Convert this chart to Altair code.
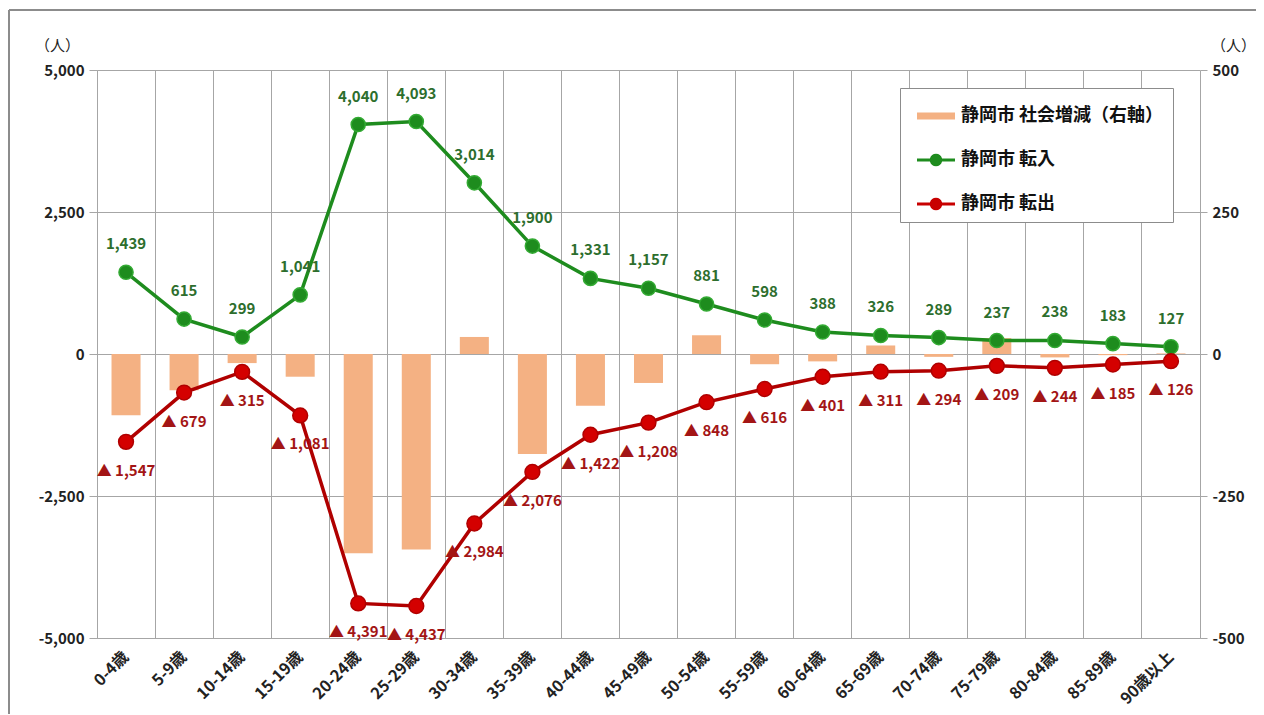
import altair as alt
import pandas as pd

ages = ["0-4歳", "5-9歳", "10-14歳", "15-19歳", "20-24歳", "25-29歳", "30-34歳",
        "35-39歳", "40-44歳", "45-49歳", "50-54歳", "55-59歳", "60-64歳", "65-69歳",
        "70-74歳", "75-79歳", "80-84歳", "85-89歳", "90歳以上"]
tennyu = [1439, 615, 299, 1041, 4040, 4093, 3014, 1900, 1331, 1157, 881, 598,
          388, 326, 289, 237, 238, 183, 127]
tenshutsu = [1547, 679, 315, 1081, 4391, 4437, 2984, 2076, 1422, 1208, 848, 616,
             401, 311, 294, 209, 244, 185, 126]
shakai = [-108, -64, -16, -40, -351, -344, 30, -176, -91, -51, 33, -18, -13, 15,
          -5, 28, -6, -2, 1]

series_names = ["静岡市 社会増減（右軸）", "静岡市 転入", "静岡市 転出"]
series_colors = ["#f4b183", "#1e8c1e", "#c80000"]

FONT = "Noto Sans CJK JP"
LABEL_EXPR = "replace(format(datum.value, ',d'), '\u2212', '-')"

df = pd.DataFrame({
    "age": ages,
    "in": tennyu,
    "out": [-v for v in tenshutsu],
    "out_label": [f"▲ {v:,}" for v in tenshutsu],
    "net": shakai,
    "series": series_names[0],
})

x_enc = alt.X("age:N", sort=ages, title=None,
              scale=alt.Scale(paddingInner=0, paddingOuter=0),
              axis=alt.Axis(bandPosition=0, labelOffset=0, labelAngle=-45,
                            labelAlign="right", labelBaseline="middle",
                            labelPadding=16, ticks=False, grid=True,
                            gridColor="#a6a6a6", gridWidth=1,
                            domainColor="#a6a6a6", labelFontSize=16,
                            labelColor="#222222", labelFontWeight="bold"))

path_rect = "M-1,-0.18L1,-0.18L1,0.18L-1,0.18Z"
path_line = ("M-1,-0.08L-0.32,-0.08A0.33,0.33,0,0,1,0.32,-0.08L1,-0.08L1,0.08"
             "L0.32,0.08A0.33,0.33,0,0,1,-0.32,0.08L-1,0.08Z")
sym_expr = f"datum.value === '{series_names[0]}' ? '{path_rect}' : '{path_line}'"

legend = alt.Legend(title=None, orient="none", legendX=803, legendY=18,
                    symbolType={"expr": sym_expr}, symbolSize=1444,
                    symbolStrokeWidth=0, symbolOpacity=1, symbolOffset=8,
                    labelFontSize=18, labelFontWeight="bold", labelColor="#111111",
                    labelFont=FONT, labelOffset=6, labelLimit=400, rowPadding=16,
                    fillColor="white", strokeColor="#8c8c8c", padding=9)

right_axis = alt.Axis(orient="right", values=[-500, -250, 0, 250, 500],
                      labelExpr=LABEL_EXPR, grid=False, tickSize=7,
                      tickColor="#a6a6a6", domainColor="#a6a6a6", labelPadding=5,
                      labelFontSize=15, labelFontWeight="bold",
                      labelColor="#222222",
                      titleAngle=0, titleX=33, titleY=-25,
                      titleAlign="center", titleBaseline="middle",
                      titleFontSize=15, titleFontWeight="normal",
                      titleColor="#222222")

bars = alt.Chart(df).mark_bar(width=alt.RelativeBandSize(0.5)).encode(
    x=x_enc,
    y=alt.Y("net:Q", title="（人）",
            scale=alt.Scale(domain=[-500, 500], nice=False), axis=right_axis),
    color=alt.Color("series:N", scale=alt.Scale(domain=series_names,
                                                range=series_colors),
                    legend=legend),
)

left_axis = alt.Axis(orient="left", values=[-5000, -2500, 0, 2500, 5000],
                     labelExpr=LABEL_EXPR, grid=True, gridColor="#a6a6a6",
                     tickSize=8, tickColor="#a6a6a6", domainColor="#a6a6a6",
                     labelPadding=5, labelFontSize=15, labelFontWeight="bold",
                     labelColor="#222222",
                     titleAngle=0, titleX=-40, titleY=-25,
                     titleAlign="center", titleBaseline="middle",
                     titleFontSize=15, titleFontWeight="normal",
                     titleColor="#222222")
yl = alt.Y("in:Q", title="（人）",
           scale=alt.Scale(domain=[-5000, 5000], nice=False), axis=left_axis)
yo = alt.Y("out:Q", title="（人）",
           scale=alt.Scale(domain=[-5000, 5000], nice=False), axis=left_axis)

base = alt.Chart(df)
green_line = base.mark_line(color="#1e8c1e", strokeWidth=3.5).encode(x=x_enc, y=yl)
green_pts = base.mark_point(filled=True, size=200, color="#1e8c1e", opacity=1,
                            stroke="#33aa33", strokeWidth=1.5).encode(x=x_enc, y=yl)
green_txt = base.mark_text(dy=-28, fontSize=15, fontWeight="bold",
                           color="#2d6e2d", font=FONT).encode(
    x=x_enc, y=yl, text=alt.Text("in:Q", format=","))
red_line = base.mark_line(color="#b00000", strokeWidth=3.5).encode(x=x_enc, y=yo)
red_pts = base.mark_point(filled=True, size=220, color="#d40000", opacity=1,
                          stroke="#b00000", strokeWidth=1.5).encode(x=x_enc, y=yo)
red_txt = base.mark_text(dy=29, fontSize=15, fontWeight="bold",
                         color="#a31515", font=FONT).encode(
    x=x_enc, y=yo, text="out_label:N")

frame_top = base.mark_rule(color="#8c8c8c", strokeWidth=2).encode(
    x=alt.value(-88), x2=alt.value(1180), y=alt.value(-60))
frame_left = base.mark_rule(color="#8c8c8c", strokeWidth=2).encode(
    x=alt.value(-88), y=alt.value(-60), y2=alt.value(650))

lines = alt.layer(green_line, red_line, green_pts, red_pts, green_txt, red_txt,
                  frame_top, frame_left)

chart = alt.layer(bars, lines).resolve_scale(y="independent").properties(
    width=1103, height=568,
    autosize=alt.AutoSizeParams(type="none"),
    padding={"left": 89, "top": 62, "right": 56, "bottom": 76},
).configure(font=FONT).configure_view(stroke=None)

chart.save("out.html", embed_options={"renderer": "svg", "actions": False})
